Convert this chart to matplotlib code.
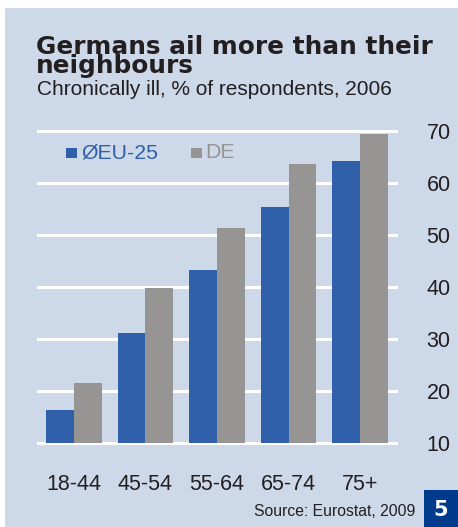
import matplotlib
matplotlib.use("Agg")
import matplotlib.pyplot as plt
from matplotlib.patches import Rectangle
import numpy as np

categories = ["18-44", "45-54", "55-64", "65-74", "75+"]
eu25 = [16.4, 31.2, 43.2, 55.3, 64.2]
de = [21.6, 39.8, 51.4, 63.7, 69.5]
yticks = [10, 20, 30, 40, 50, 60, 70]

BG = "#cdd8e9"
BLUE = "#3060aa"
GREY = "#979593"
TXT = "#231f20"

plt.rcParams['font.family'] = ['Liberation Sans', 'DejaVu Sans']

W, H = 458, 527
fig = plt.figure(figsize=(W / 100, H / 100), dpi=100)
fig.patch.set_facecolor("white")
# background panel
bg = fig.add_axes([5 / W, 0, 1 - 5 / W, 1 - 8 / H], zorder=-10)
bg.set_facecolor(BG)
bg.set_xticks([]); bg.set_yticks([])
for s in bg.spines.values():
    s.set_visible(False)

ax_l, ax_r = 38 / W, 396 / W
ax_top, ax_bot = 131, 443
ax = fig.add_axes([ax_l, 1 - ax_bot / H, ax_r - ax_l, (ax_bot - ax_top) / H], zorder=1)
ax.set_facecolor("none")

x = np.arange(len(categories))
bw = 0.385
ax.bar(x - bw / 2, np.array(eu25) - 10, bw, bottom=10, color=BLUE, zorder=3, label="ØEU-25")
ax.bar(x + bw / 2, np.array(de) - 10, bw, bottom=10, color=GREY, zorder=3, label="DE")

ax.set_xlim(-0.503, 4.503)
ax.set_ylim(10, 70)
ax.set_yticks(yticks)
for t in yticks:
    ax.axhline(t, color="white", lw=2.2, zorder=1, clip_on=False)
ax.yaxis.tick_right()
ax.tick_params(axis="y", length=0, pad=22, labelsize=15.5, labelcolor=TXT)
ax.set_xticks(x)
ax.set_xticklabels(categories)
ax.tick_params(axis="x", length=0, pad=22, labelsize=15.5, labelcolor=TXT)
for s in ax.spines.values():
    s.set_visible(False)

# legend
fig.patches.append(Rectangle((66 / W, 1 - 158 / H), 11 / W, 10 / H, transform=fig.transFigure,
                             facecolor=BLUE, edgecolor="none", zorder=5))
fig.text(81 / W, 1 - 153 / H, "ØEU-25", color=BLUE, fontsize=15.3, va="center", ha="left")
fig.patches.append(Rectangle((191 / W, 1 - 158 / H), 11 / W, 10 / H, transform=fig.transFigure,
                             facecolor=GREY, edgecolor="none", zorder=5))
fig.text(205 / W, 1 - 153 / H, "DE", color=GREY, fontsize=15.3, va="center", ha="left")

# titles
fig.text(36 / W, 1 - 73 / H, "Germans ail more than their\nneighbours", fontsize=17.8,
         fontweight="bold", family=["DejaVu Sans"], color=TXT, va="baseline", ha="left",
         linespacing=0.74)
fig.text(37 / W, 1 - 95 / H, "Chronically ill, % of respondents, 2006", fontsize=15,
         color=TXT, va="baseline", ha="left")

# source + page box
fig.text(415 / W, 1 - 512 / H, "Source: Eurostat, 2009", fontsize=11.3, color=TXT,
         va="center", ha="right")
fig.patches.append(Rectangle((424 / W, 0), 34 / W, 37 / H, transform=fig.transFigure,
                             facecolor="#003a8c", edgecolor="none", zorder=5))
fig.text(441 / W, 1 - 510 / H, "5", fontsize=15, fontweight="bold", color="white",
         family=["DejaVu Sans"], va="center", ha="center", zorder=10)

fig.savefig("out.png", dpi=100, facecolor=fig.get_facecolor())
